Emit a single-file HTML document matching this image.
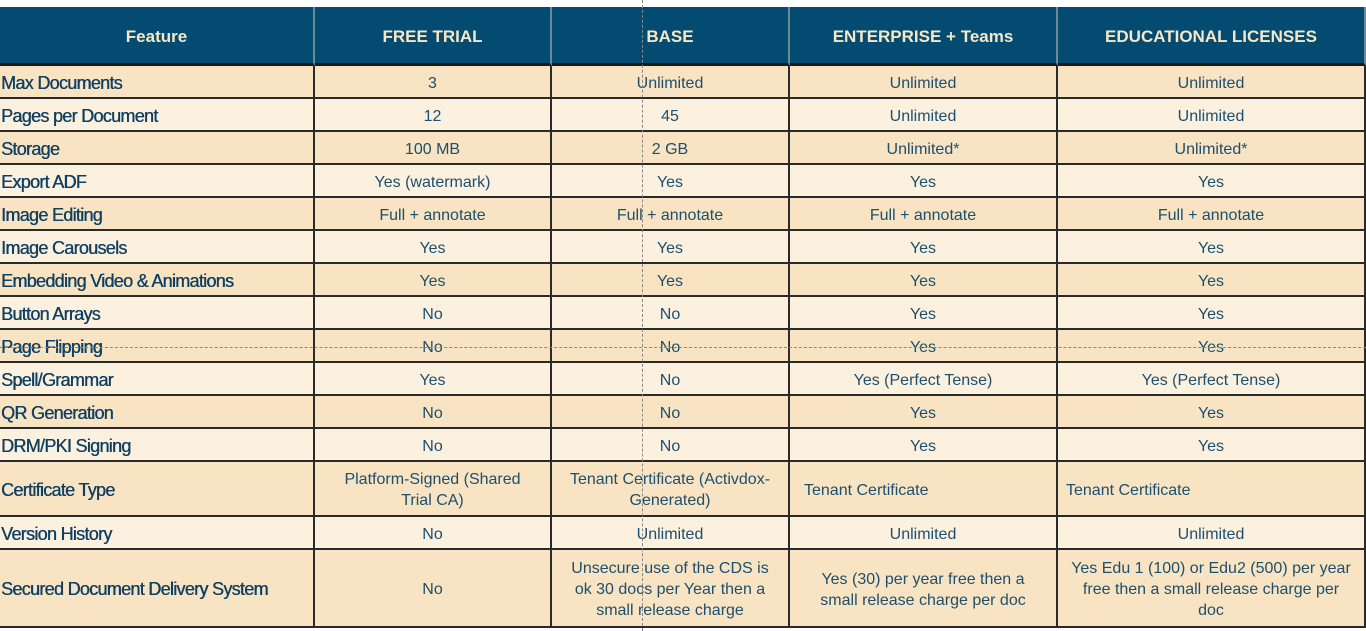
<!DOCTYPE html>
<html><head><meta charset="utf-8"><style>
body{margin:0;width:1366px;height:631px;background:#fff;overflow:hidden;font-family:"Liberation Sans",sans-serif;position:relative}
.c{position:absolute;box-sizing:border-box;display:flex;align-items:center;justify-content:center;text-align:center;color:#1d4f6e;font-size:16px;line-height:21px;border-right:2px solid #2a2a2a;border-bottom:2px solid #2a2a2a;padding:3px 14px 0 14px}
.h{background:#034b70;color:#f6e7c8;font-weight:bold;font-size:17px;border-color:#6f8797;border-bottom:3px solid #1a1a1a;padding-top:2px}
.f{justify-content:flex-start;font-size:18px;letter-spacing:-0.7px;color:#0f3f62;padding-left:1px;text-shadow:0.4px 0 0 #0f3f62}
.l{justify-content:flex-start;padding-left:14px}
.a{background:#f8e3c2}.b{background:#fcf0de}
.vd{position:absolute;left:642px;top:0;height:631px;border-left:1px dashed #888}
.hd{position:absolute;top:347px;left:0;width:1366px;border-top:1px dashed #888}
</style></head><body>
<div id="t"></div>
<script>
const xs=[0,315,552,790,1058,1366];
const ys=[7,66,99,132,165,198,231,264,297,330,363,396,429,462,517,550,628];
const rows=[["Feature","FREE TRIAL","BASE","ENTERPRISE + Teams","EDUCATIONAL LICENSES"],
["Max Documents","3","Unlimited","Unlimited","Unlimited"],
["Pages per Document","12","45","Unlimited","Unlimited"],
["Storage","100 MB","2 GB","Unlimited*","Unlimited*"],
["Export ADF","Yes (watermark)","Yes","Yes","Yes"],
["Image Editing","Full + annotate","Full + annotate","Full + annotate","Full + annotate"],
["Image Carousels","Yes","Yes","Yes","Yes"],
["Embedding Video &amp; Animations","Yes","Yes","Yes","Yes"],
["Button Arrays","No","No","Yes","Yes"],
["Page Flipping","No","No","Yes","Yes"],
["Spell/Grammar","Yes","No","Yes (Perfect Tense)","Yes (Perfect Tense)"],
["QR Generation","No","No","Yes","Yes"],
["DRM/PKI Signing","No","No","Yes","Yes"],
["Certificate Type","Platform-Signed (Shared Trial CA)","Tenant Certificate (Activdox-Generated)","Tenant Certificate","Tenant Certificate"],
["Version History","No","Unlimited","Unlimited","Unlimited"],
["Secured Document Delivery System","No","Unsecure use of the CDS is ok 30 docs per Year then a small release charge","Yes (30) per year free then a small release charge per doc","Yes Edu 1 (100) or Edu2 (500) per year<br>free then a small release charge per<br>doc"]];
let h="";
rows.forEach((r,i)=>{r.forEach((t,j)=>{
let cls="c "+(i==0?"h":(i%2?"a":"b"));
if(i>0&&j==0)cls+=" f";
if(i==13&&j>=3)cls+=" l";
let ex=(i==15&&j==4)?"padding-left:2px;padding-right:2px;":"";
if(i==13&&j==4)ex="padding-left:8px;";
h+=`<div class="${cls}" style="${ex}left:${xs[j]}px;top:${ys[i]}px;width:${xs[j+1]-xs[j]}px;height:${ys[i+1]-ys[i]}px">${t}</div>`;});});
document.getElementById("t").innerHTML=h;
</script>
<div class="vd"></div><div class="hd"></div>
</body></html>
